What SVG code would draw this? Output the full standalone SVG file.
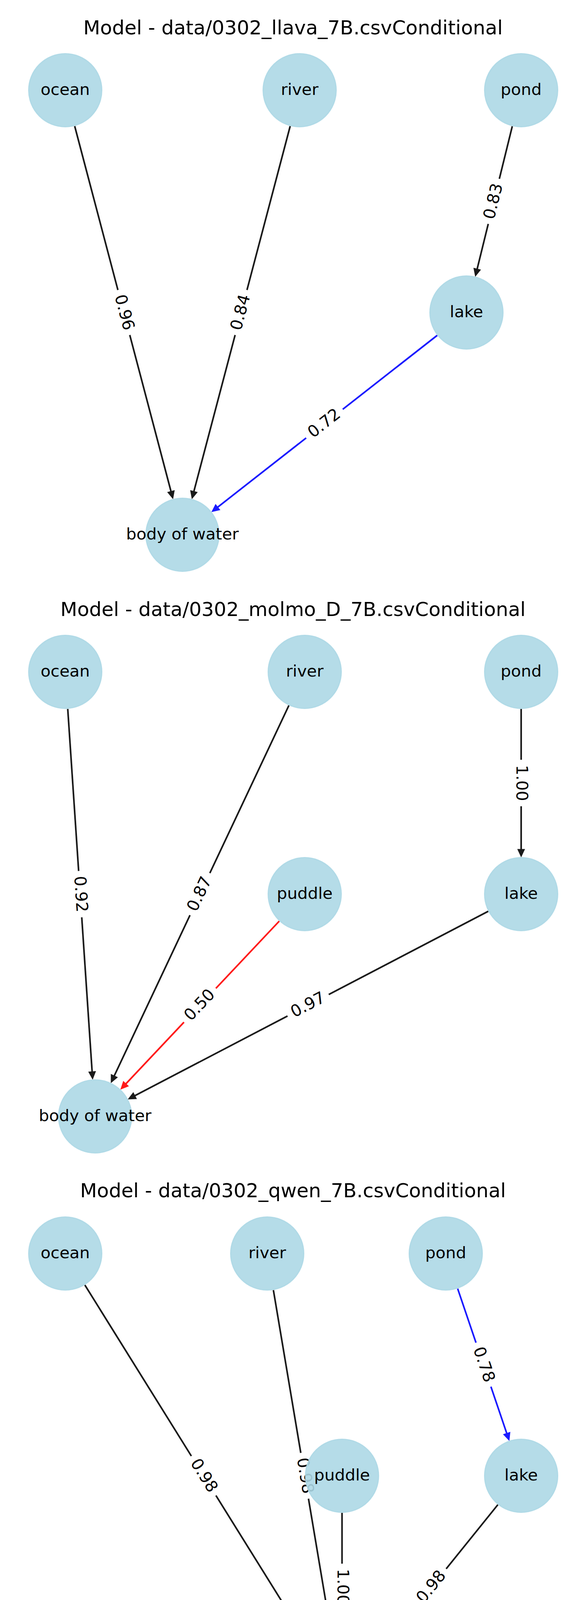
<svg xmlns="http://www.w3.org/2000/svg" width="1500" height="6000" viewBox="0 0 1500 6000">
<style>
text{font-family:"DejaVu Sans","Liberation Sans",sans-serif;}
.title{font-size:50px;text-anchor:middle;fill:#000;}
.nl{font-size:41.67px;text-anchor:middle;fill:#000;}
.el{font-size:41.67px;text-anchor:middle;fill:#000;}
.node{fill:#add8e6;fill-opacity:0.9;stroke:#add8e6;stroke-opacity:0.9;stroke-width:3;}
.e{stroke-width:4.17;fill:none;}
.k{stroke:#1a1a1a;marker-end:url(#ak);}
.b{stroke:#1a1aff;marker-end:url(#ab);}
.r{stroke:#ff1a1a;marker-end:url(#ar);}
.box{fill:#fff;stroke:#fff;stroke-width:1;}
</style>
<defs>
<marker id="ak" markerUnits="userSpaceOnUse" orient="auto" refX="0" refY="0" markerWidth="40" markerHeight="40" overflow="visible"><path d="M15,0 L-6.5,-10 L-6.5,10 Z" fill="#1a1a1a"/></marker>
<marker id="ab" markerUnits="userSpaceOnUse" orient="auto" refX="0" refY="0" markerWidth="40" markerHeight="40" overflow="visible"><path d="M15,0 L-6.5,-10 L-6.5,10 Z" fill="#1a1aff"/></marker>
<marker id="ar" markerUnits="userSpaceOnUse" orient="auto" refX="0" refY="0" markerWidth="40" markerHeight="40" overflow="visible"><path d="M15,0 L-6.5,-10 L-6.5,10 Z" fill="#ff1a1a"/></marker>
<rect id="lb" class="box" x="-59" y="-32.7" width="118" height="65.4" rx="12.5" ry="12.5"/>
</defs>
<rect width="1500" height="6000" fill="#fff"/>

<g id="titles">
<text class="title" x="750" y="88.3">Model - data/0302_llava_7B.csvConditional</text>
<text class="title" x="750" y="1576.5">Model - data/0302_molmo_D_7B.csvConditional</text>
<text class="title" x="750" y="3065">Model - data/0302_qwen_7B.csvConditional</text>
<text class="title" x="750" y="4553.5">Model - data/0306_mllama_11B.csvConditional</text>
</g>

<g id="connectors">
<!-- panel 1 -->
<line class="e k" x1="191.2" y1="322.9" x2="439.2" y2="1263.6"/>
<line class="e k" x1="742.8" y1="322.9" x2="494.8" y2="1263.6"/>
<line class="e k" x1="1311.3" y1="323.2" x2="1220.0" y2="694.2"/>
<line class="e b" x1="1119.2" y1="858.5" x2="552.8" y2="1301.8"/>
<!-- panel 2 -->
<line class="e k" x1="173.4" y1="1814.8" x2="236.2" y2="2749.2"/>
<line class="e k" x1="739.5" y1="1805.9" x2="290.0" y2="2759.4"/>
<line class="e k" x1="1334" y1="1815" x2="1334" y2="2180"/>
<line class="e r" x1="714.8" y1="2358.1" x2="318.3" y2="2778.7"/>
<line class="e k" x1="1249.8" y1="2332.9" x2="340.1" y2="2807.6"/>
<!-- panel 3 -->
<line class="e k" x1="217.2" y1="3289.6" x2="817.9" y2="4254.5"/>
<line class="e k" x1="699.8" y1="3302.7" x2="857.4" y2="4239.5"/>
<line class="e b" x1="1171.5" y1="3299.0" x2="1299.0" y2="3674.8"/>
<line class="e k" x1="875.5" y1="3873" x2="875.5" y2="4238"/>
<line class="e k" x1="1274.4" y1="3852.0" x2="943.9" y2="4262.1"/>
<!-- panel 4 -->
<line class="e r" x1="401.6" y1="4782.9" x2="880.7" y2="5738.6"/>
<line class="e k" x1="722.5" y1="4791.2" x2="908.3" y2="5729.1"/>
<line class="e b" x1="1263.0" y1="4792.0" x2="1317.9" y2="5159.2"/>
<line class="e k" x1="243.1" y1="5323.8" x2="842.1" y2="5770.8"/>
<line class="e k" x1="929.5" y1="5362" x2="929.5" y2="5727"/>
<line class="e k" x1="1279.0" y1="5344.4" x2="992.7" y2="5747.2"/>

<g id="edge-labels">
<g transform="translate(317,800) rotate(75.23)"><use href="#lb"/><text class="el" y="12">0.96</text></g>
<g transform="translate(617,800) rotate(-75.23)"><use href="#lb"/><text class="el" y="12">0.84</text></g>
<g transform="translate(1264,515.5) rotate(-76.18)"><use href="#lb"/><text class="el" y="12">0.83</text></g>
<g transform="translate(830.5,1084.5) rotate(-38.05)"><use href="#lb"/><text class="el" y="12">0.72</text></g>

<g transform="translate(205.25,2289) rotate(86.15)"><use href="#lb"/><text class="el" y="12">0.92</text></g>
<g transform="translate(511.75,2289) rotate(-64.76)"><use href="#lb"/><text class="el" y="12">0.87</text></g>
<g transform="translate(1334,2004.5) rotate(90)"><use href="#lb"/><text class="el" y="12">1.00</text></g>
<g transform="translate(511.75,2573.5) rotate(-46.68)"><use href="#lb"/><text class="el" y="12">0.50</text></g>
<g transform="translate(788.75,2573.5) rotate(-27.55)"><use href="#lb"/><text class="el" y="12">0.97</text></g>

<g transform="translate(521.25,3778) rotate(58.10)"><use href="#lb"/><text class="el" y="12">0.98</text></g>
<g transform="translate(779.75,3778) rotate(80.45)"><use href="#lb"/><text class="el" y="12">0.98</text></g>
<g transform="translate(1237.5,3493.5) rotate(71.27)"><use href="#lb"/><text class="el" y="12">0.78</text></g>
<g transform="translate(875.5,4062.5) rotate(90)"><use href="#lb"/><text class="el" y="12">1.00</text></g>
<g transform="translate(1104.75,4062.5) rotate(-51.14)"><use href="#lb"/><text class="el" y="12">0.98</text></g>

<g transform="translate(644.25,5267) rotate(63.38)"><use href="#lb"/><text class="el" y="12">0.00</text></g>
<g transform="translate(816.75,5267) rotate(78.79)"><use href="#lb"/><text class="el" y="12">0.96</text></g>
<g transform="translate(1291.5,4982.5) rotate(81.50)"><use href="#lb"/><text class="el" y="12">0.67</text></g>
<g transform="translate(548.25,5551.5) rotate(36.73)"><use href="#lb"/><text class="el" y="12">1.00</text></g>
<g transform="translate(929.5,5551.5) rotate(90)"><use href="#lb"/><text class="el" y="12">1.00</text></g>
<g transform="translate(1131.75,5551.5) rotate(-54.59)"><use href="#lb"/><text class="el" y="12">1.00</text></g>
</g>
</g>

<!-- panel 1 nodes -->
<g id="p1-ocean"><circle class="node" cx="167" cy="231" r="93.5"/><text class="nl" x="167" y="243">ocean</text></g>
<g id="p1-river"><circle class="node" cx="767" cy="231" r="93.5"/><text class="nl" x="767" y="243">river</text></g>
<g id="p1-pond"><circle class="node" cx="1334" cy="231" r="93.5"/><text class="nl" x="1334" y="243">pond</text></g>
<g id="p1-lake"><circle class="node" cx="1194" cy="800" r="93.5"/><text class="nl" x="1194" y="812">lake</text></g>
<g id="p1-body-of-water"><circle class="node" cx="467" cy="1369" r="93.5"/><text class="nl" x="467" y="1381">body of water</text></g>

<!-- panel 2 nodes -->
<g id="p2-ocean"><circle class="node" cx="167" cy="1720" r="93.5"/><text class="nl" x="167" y="1732">ocean</text></g>
<g id="p2-river"><circle class="node" cx="780" cy="1720" r="93.5"/><text class="nl" x="780" y="1732">river</text></g>
<g id="p2-pond"><circle class="node" cx="1334" cy="1720" r="93.5"/><text class="nl" x="1334" y="1732">pond</text></g>
<g id="p2-puddle"><circle class="node" cx="780" cy="2289" r="93.5"/><text class="nl" x="780" y="2301">puddle</text></g>
<g id="p2-lake"><circle class="node" cx="1334" cy="2289" r="93.5"/><text class="nl" x="1334" y="2301">lake</text></g>
<g id="p2-body-of-water"><circle class="node" cx="243.5" cy="2858" r="93.5"/><text class="nl" x="243.5" y="2870">body of water</text></g>

<!-- panel 3 nodes -->
<g id="p3-ocean"><circle class="node" cx="167" cy="3209" r="93.5"/><text class="nl" x="167" y="3221">ocean</text></g>
<g id="p3-river"><circle class="node" cx="684" cy="3209" r="93.5"/><text class="nl" x="684" y="3221">river</text></g>
<g id="p3-pond"><circle class="node" cx="1141" cy="3209" r="93.5"/><text class="nl" x="1141" y="3221">pond</text></g>
<g id="p3-puddle"><circle class="node" cx="875.5" cy="3778" r="93.5"/><text class="nl" x="875.5" y="3790">puddle</text></g>
<g id="p3-lake"><circle class="node" cx="1334" cy="3778" r="93.5"/><text class="nl" x="1334" y="3790">lake</text></g>
<g id="p3-body-of-water"><circle class="node" cx="875.5" cy="4347" r="93.5"/><text class="nl" x="875.5" y="4359">body of water</text></g>

<!-- panel 4 nodes -->
<g id="p4-sea"><circle class="node" cx="359" cy="4698" r="93.5"/><text class="nl" x="359" y="4710">sea</text></g>
<g id="p4-river"><circle class="node" cx="704" cy="4698" r="93.5"/><text class="nl" x="704" y="4710">river</text></g>
<g id="p4-pond"><circle class="node" cx="1249" cy="4698" r="93.5"/><text class="nl" x="1249" y="4710">pond</text></g>
<g id="p4-ocean"><circle class="node" cx="167" cy="5267" r="93.5"/><text class="nl" x="167" y="5279">ocean</text></g>
<g id="p4-puddle"><circle class="node" cx="929.5" cy="5267" r="93.5"/><text class="nl" x="929.5" y="5279">puddle</text></g>
<g id="p4-lake"><circle class="node" cx="1334" cy="5267" r="93.5"/><text class="nl" x="1334" y="5279">lake</text></g>
<g id="p4-body-of-water"><circle class="node" cx="929.5" cy="5836" r="93.5"/><text class="nl" x="929.5" y="5848">body of water</text></g>
</svg>
